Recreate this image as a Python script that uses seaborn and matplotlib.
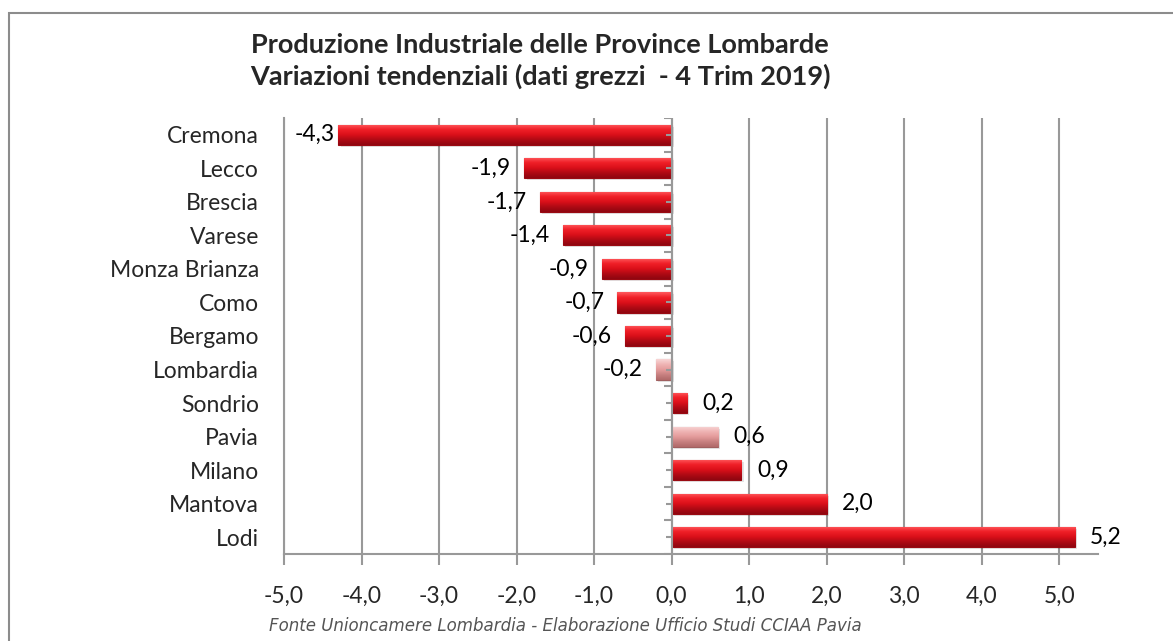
import numpy as np
import pandas as pd
import matplotlib
matplotlib.use("Agg")
import matplotlib.pyplot as plt
import matplotlib.patches as mpatches
from matplotlib.colors import LinearSegmentedColormap
import seaborn as sns

provinces = ["Cremona", "Lecco", "Brescia", "Varese", "Monza Brianza", "Como",
             "Bergamo", "Lombardia", "Sondrio", "Pavia", "Milano", "Mantova", "Lodi"]
values = [-4.3, -1.9, -1.7, -1.4, -0.9, -0.7, -0.6, -0.2, 0.2, 0.6, 0.9, 2.0, 5.2]
highlight = ["Lombardia", "Pavia"]
x_ticks = [-5.0, -4.0, -3.0, -2.0, -1.0, 0.0, 1.0, 2.0, 3.0, 4.0, 5.0]

title = "Produzione Industriale delle Province Lombarde\nVariazioni tendenziali (dati grezzi  - 4 Trim 2019)"
footer = "Fonte Unioncamere Lombardia - Elaborazione Ufficio Studi CCIAA Pavia"

sns.set_theme(style="white")
plt.rcParams['font.family'] = ['Lato', 'DejaVu Sans']

RED = "#E0141C"
PINK = "#E9A3A3"
GRID = "#999999"
FS = 16.5

df = pd.DataFrame({"provincia": provinces, "valore": values})
palette = {p: (PINK if p in highlight else RED) for p in provinces}

fig = plt.figure(figsize=(11.73, 6.41), dpi=100)
ax = fig.add_axes([284 / 1173, 1 - 554 / 641, (1098 - 284) / 1173, (554 - 118) / 641])

sns.barplot(data=df, x="valore", y="provincia", hue="provincia", palette=palette,
            legend=False, orient="h", width=0.6, ax=ax, saturation=1, zorder=3)

ax.set_xlim(-5.0, 5.5)
ax.set_ylim(len(provinces) - 0.5, -0.5)

# gradient shading for bevel look
cmap_red = LinearSegmentedColormap.from_list("r", ["#FF5A5E", "#F02028", "#DC101A", "#B00A14", "#8E0610"])
cmap_pink = LinearSegmentedColormap.from_list("p", ["#F8D6D6", "#EFB4B4", "#E49C9C", "#C88080", "#B06A6A"])
grad = np.linspace(0, 1, 64).reshape(-1, 1)
for patch, name in zip(ax.patches, provinces):
    x0, y0 = patch.get_x(), patch.get_y()
    w, h = patch.get_width(), patch.get_height()
    cmap = cmap_pink if name in highlight else cmap_red
    edge = "#A06060" if name in highlight else "#9A0A12"
    patch.set_edgecolor(edge)
    patch.set_linewidth(0.8)
    sh = mpatches.Rectangle((x0 + 0.03, y0 + 0.06), w, h, color="#000000", alpha=0.10,
                            zorder=2.5, lw=0)
    ax.add_patch(sh)
    im = ax.imshow(grad, cmap=cmap, aspect="auto", zorder=3.1,
                   extent=(x0, x0 + w, y0 + h, y0), interpolation="bicubic")
    im.set_clip_path(patch)

# axes styling
for s in ["top", "right"]:
    ax.spines[s].set_visible(False)
for s in ["left", "bottom"]:
    ax.spines[s].set_color(GRID)
    ax.spines[s].set_linewidth(1.5)

ax.set_xticks(x_ticks)
ax.set_xticklabels([f"{t:.1f}".replace(".", ",") for t in x_ticks])
ax.tick_params(axis="x", direction="out", length=8, width=1.5, color=GRID,
               labelsize=FS, pad=15, bottom=True)
ax.tick_params(axis="y", length=0, labelsize=FS, pad=18)
ax.grid(axis="x", color=GRID, lw=1.5, zorder=0)
ax.set_axisbelow(True)
ax.set_xlabel("")
ax.set_ylabel("")

# category axis at zero
ax.axvline(0, color=GRID, lw=1.5, zorder=4)
n = len(provinces)
for i in range(n + 1):
    ax.plot([-0.1, 0], [i - 0.5, i - 0.5], color=GRID, lw=1.5, zorder=4, solid_capstyle="butt")
for i in range(n):
    ax.plot([-0.07, 0], [i, i], color=GRID, lw=1.5, zorder=4, solid_capstyle="butt")

# value labels
fig.canvas.draw()
renderer = fig.canvas.get_renderer()
ax_left_px = ax.get_window_extent(renderer).x0
for i, v in enumerate(values):
    lbl = f"{v:.1f}".replace(".", ",")
    if v < 0:
        t = ax.text(v - 0.17, i, lbl, ha="right", va="center", fontsize=FS, color="black", zorder=5)
        bb = t.get_window_extent(renderer)
        if bb.x0 < ax_left_px + 6:
            t.set_x(v - 0.05)
    else:
        ax.text(v + 0.2, i, lbl, ha="left", va="center", fontsize=FS, color="black", zorder=5)

fig.text(540 / 1173, 1 - 61 / 641, title, ha="center", va="center", fontsize=19.5,
         fontweight="bold", linespacing=1.28)
fig.text(565 / 1173, 1 - 626 / 641, footer, ha="center", va="center", fontsize=12,
         style="italic", color="#555555", family=["DejaVu Sans"])

# outer border
border = mpatches.Rectangle((9 / 1173, -0.05), 1.2, 1 - 13 / 641 + 0.05, transform=fig.transFigure,
                            fill=False, edgecolor="#8C8C8C", lw=1.5)
fig.add_artist(border)

fig.savefig("out.png", dpi=100)
